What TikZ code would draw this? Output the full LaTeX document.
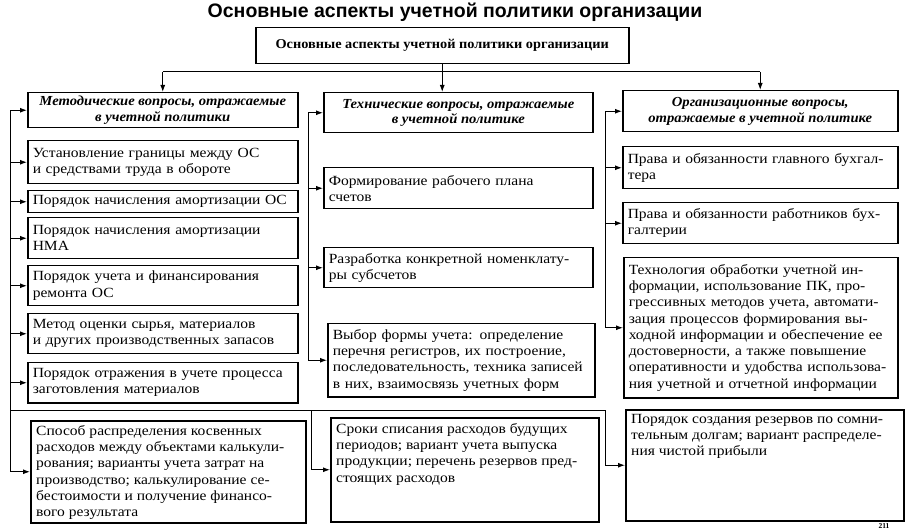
\documentclass[tikz,border=0pt]{standalone}
\usepackage{fontspec}
\setmainfont{Liberation Serif}
\newfontfamily\titlefont{Liberation Sans}
\newfontfamily\bodyfam[FakeStretch=1.11]{Liberation Serif}
\newfontfamily\headfam[FakeStretch=1.06]{Liberation Serif}
\usetikzlibrary{arrows.meta}
\tikzset{
  box/.style={draw, line width=1.5pt, rectangle, anchor=north west, inner xsep=5pt, inner ysep=0pt, align=left, font=\bodyfont},
  hbox/.style={draw, line width=1.5pt, rectangle, anchor=north west, inner sep=0pt, align=center, font=\headfont},
  toptext/.style={anchor=north west, inner sep=0pt, align=left, font=\bodyfont},
  conn/.style={line width=1pt},
  arr/.style={line width=1pt, -{Latex[length=7pt,width=5pt]}}
}
\newcommand\bodyfont{\bodyfam\fontsize{14}{16.3}\selectfont}
\newcommand\headfont{\headfam\fontsize{13.8}{15.5}\selectfont\bfseries\itshape}
\begin{document}
\begin{tikzpicture}[x=1pt,y=-1pt]
\useasboundingbox (0,0) rectangle (908,529);
\fill[white] (0,0) rectangle (908,529);
% title
\node[font=\titlefont\fontsize{19.5}{22}\selectfont\bfseries] (title) at (455,12) {Основные аспекты учетной политики организации};
% top box
\node[hbox, minimum width=373, minimum height=36, font=\headfam\fontsize{13.5}{15}\selectfont\bfseries] (top) at (255,27) {Основные аспекты учетной политики организации};
% headers
\node[hbox, minimum width=270, minimum height=35] (h1) at (27,92) {Методические вопросы, отражаемые\\в учетной политики};
\node[hbox, minimum width=269, minimum height=40] (h2) at (323,92) {Технические вопросы, отражаемые\\в учетной политике};
\node[hbox, minimum width=275, minimum height=41] (h3) at (622,90) {Организационные вопросы,\\отражаемые в учетной политике};
% left column
\node[box, minimum width=270, minimum height=43, text width=260] (l1) at (27,140) {Установление границы между ОС\\и средствами труда в обороте};
\node[box, minimum width=270, minimum height=22, text width=260] (l2) at (27,190) {Порядок начисления амортизации ОС};
\node[box, minimum width=270, minimum height=41, text width=260] (l3) at (27,217) {Порядок начисления амортизации\\НМА};
\node[box, minimum width=270, minimum height=40, text width=260] (l4) at (27,265) {Порядок учета и финансирования\\ремонта ОС};
\node[box, minimum width=270, minimum height=40, text width=260] (l5) at (27,313) {Метод оценки сырья, материалов\\и других производственных запасов};
\node[box, minimum width=270, minimum height=40, text width=260] (l6) at (27,362) {Порядок отражения в учете процесса\\заготовления материалов};
\node[box, minimum width=275, minimum height=102] (l7) at (30,420) {};
\node[toptext] (l7t) at (36,425) {Способ распределения косвенных\\расходов между объектами калькули-\\рования; варианты учета затрат на\\производство; калькулирование се-\\бестоимости и получение финансо-\\вого результата};
% middle column
\node[box, minimum width=269, minimum height=41, text width=259] (m1) at (323,167) {Формирование рабочего плана\\счетов};
\node[box, minimum width=269, minimum height=40, text width=259] (m2) at (323,247) {Разработка конкретной номенклату-\\ры субсчетов};
\node[box, minimum width=267, minimum height=73, text width=257] (m3) at (327,323) {Выбор формы учета: определение\\перечня регистров, их построение,\\последовательность, техника записей\\в них, взаимосвязь учетных форм};
\node[box, minimum width=268, minimum height=104] (m4) at (330,417) {};
\node[toptext] (m4t) at (336,423) {Сроки списания расходов будущих\\периодов; вариант учета выпуска\\продукции; перечень резервов пред-\\стоящих расходов};
% right column
\node[box, minimum width=275, minimum height=42, text width=265] (r1) at (622,146) {Права и обязанности главного бухгал-\\тера};
\node[box, minimum width=275, minimum height=41, text width=265] (r2) at (622,202) {Права и обязанности работников бух-\\галтерии};
\node[box, minimum width=274, minimum height=140, text width=264] (r3) at (623,257) {Технология обработки учетной ин-\\формации, использование ПК, про-\\грессивных методов учета, автомати-\\зация процессов формирования вы-\\ходной информации и обеспечение ее\\достоверности, а также повышение\\оперативности и удобства использова-\\ния учетной и отчетной информации};
\node[box, minimum width=278, minimum height=111] (r4) at (625,409) {};
\node[toptext] (r4t) at (631,414) {Порядок создания резервов по сомни-\\тельным долгам; вариант распределе-\\ния чистой прибыли};
% page number
\node[font=\bfseries\fontsize{7.5}{8}\selectfont, anchor=south, inner sep=0.5pt] (pg) at (884,529) {211};
% top connectors
\coordinate (jc) at (457,72);
\coordinate (jl) at (h1.north |- jc);
\coordinate (jr) at (h3.north |- jc);
\draw[conn] (jl) -- (jr);
\draw[arr] (top.south) -- (top.south |- h2.north);
\draw[arr] (jl) -- (h1.north);
\draw[arr] (jr) -- (h3.north);
% buses
\coordinate (lb) at (10,0);
\coordinate (mb) at (308,0);
\coordinate (rb) at (605,0);
\coordinate (hy) at (0,410);
\coordinate (mb2) at (311,0);
\draw[conn] (h1.west -| lb) -- (l7.west -| lb);
\draw[conn] (h2.west -| mb) -- (m3.west -| mb);
\draw[conn] (h3.west -| rb) -- (r3.west -| rb);
\draw[conn] (hy -| lb) -- (hy -| rb) -- (r4.west -| rb);
\draw[conn] (hy -| mb2) -- (m4.west -| mb2);
\foreach \n in {h1,l1,l2,l3,l4,l5,l6,l7} \draw[arr] (\n.west -| lb) -- (\n.west);
\foreach \n in {h2,m1,m2,m3} \draw[arr] (\n.west -| mb) -- (\n.west);
\draw[arr] (m4.west -| mb2) -- (m4.west);
\foreach \n in {h3,r1,r2,r3,r4} \draw[arr] (\n.west -| rb) -- (\n.west);
\end{tikzpicture}
\end{document}
